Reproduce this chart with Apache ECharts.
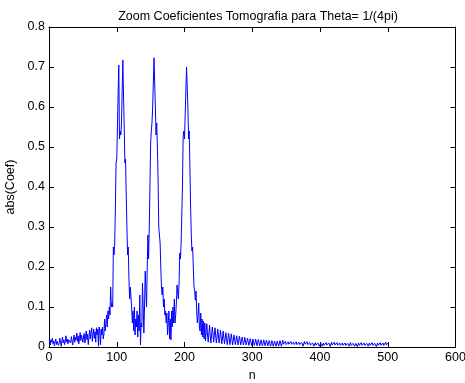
<!DOCTYPE html>
<html>
<head>
<meta charset="utf-8">
<script src="https://cdn.jsdelivr.net/npm/echarts@6/dist/echarts.min.js"></script>
<style>html,body{margin:0;padding:0;background:#fff;}#c{width:465px;height:383px;}</style>
</head>
<body>
<div id="c"></div>
<script>
var titleText = 'Zoom Coeficientes Tomografia para Theta= 1/(4pi)';
var xName = 'n';
var yName = 'abs(Coef)';
var xTicks = [0, 100, 200, 300, 400, 500, 600];
var yTicks = [0, 0.1, 0.2, 0.3, 0.4, 0.5, 0.6, 0.7, 0.8];
// abs(Coef) for n = 1..500
var absCoef = [
0.02,0.005,0.018,0.012,0.022,0.008,0.015,0.003,0.012,0.02,
0.006,0.014,0.018,0.004,0.01,0.022,0.012,0.002,0.016,0.025,
0.01,0.018,0.006,0.015,0.028,0.012,0.02,0.008,0.018,0.013,
0.022,0.01,0.026,0.015,0.005,0.02,0.03,0.012,0.024,0.018,
0.035,0.014,0.028,0.008,0.022,0.036,0.016,0.03,0.02,0.012,
0.028,0.034,0.01,0.026,0.04,0.018,0.032,0.006,0.024,0.042,
0.02,0.035,0.048,0.014,0.03,0.045,0.022,0.038,0.012,0.048,
0.03,0.045,0.002,0.05,0.035,0.005,0.045,0.03,0.05,0.02,
0.03,0.07,0.04,0.06,0.08,0.05,0.09,0.07,0.1,0.08,
0.15,0.1,0.11,0.1,0.25,0.23,0.26,0.35,0.46,0.47,
0.55,0.63,0.705,0.52,0.54,0.53,0.56,0.64,0.717,0.63,
0.55,0.46,0.47,0.38,0.3,0.23,0.25,0.17,0.12,0.15,
0.15,0.1,0.06,0.09,0.04,0.1,0.03,0.07,0.05,0.09,
0.025,0.08,0.04,0.13,0.005,0.06,0.05,0.16,0.1,0.035,
0.1,0.19,0.14,0.1,0.2,0.28,0.22,0.3,0.4,0.51,
0.54,0.56,0.6,0.66,0.723,0.66,0.6,0.53,0.56,0.5,
0.42,0.3,0.28,0.26,0.2,0.15,0.13,0.15,0.1,0.12,
0.08,0.09,0.06,0.085,0.03,0.025,0.09,0.02,0.07,0.018,
0.09,0.05,0.1,0.06,0.12,0.06,0.08,0.11,0.155,0.135,
0.12,0.16,0.235,0.22,0.26,0.265,0.4,0.525,0.54,0.52,
0.58,0.64,0.7,0.705,0.6,0.52,0.54,0.45,0.35,0.28,
0.24,0.25,0.2,0.15,0.14,0.117,0.14,0.09,0.06,0.08,
0.11,0.05,0.04,0.085,0.03,0.07,0.025,0.065,0.02,0.06,
0.015,0.04,0.058,0.03,0.012,0.035,0.055,0.028,0.01,0.03,
0.05,0.035,0.012,0.028,0.048,0.03,0.01,0.025,0.045,0.03,
0.01,0.022,0.042,0.028,0.008,0.02,0.04,0.025,0.008,0.02,
0.036,0.024,0.006,0.018,0.035,0.022,0.006,0.017,0.033,0.02,
0.005,0.016,0.03,0.02,0.006,0.015,0.028,0.018,0.005,0.014,
0.027,0.017,0.005,0.013,0.025,0.016,0.005,0.012,0.024,0.015,
0.005,0.012,0.022,0.014,0.004,0.011,0.021,0.013,0.004,0.011,
0.02,0.012,0.004,0.01,0.02,0.012,0.003,0.01,0.019,0.011,
0.003,0.009,0.018,0.01,0.003,0.009,0.018,0.01,0.003,0.008,
0.017,0.01,0.003,0.008,0.016,0.009,0.002,0.008,0.016,0.009,
0.002,0.007,0.015,0.009,0.002,0.007,0.015,0.008,0.002,0.007,
0.016,0.008,0.002,0.009,0.017,0.007,0.003,0.011,0.014,0.006,
0.002,0.009,0.013,0.007,0.002,0.008,0.014,0.007,0.002,0.007,
0.012,0.006,0.002,0.008,0.013,0.006,0.002,0.007,0.012,0.006,
0.002,0.007,0.011,0.006,0.002,0.008,0.014,0.007,0.002,0.009,
0.013,0.006,0.002,0.007,0.011,0.005,0.002,0.006,0.01,0.005,
0.002,0.006,0.011,0.005,0.002,0.006,0.01,0.005,0.002,0.006,
0.01,0.005,0.002,0.006,0.01,0.004,0.002,0.006,0.011,0.005,
0.002,0.005,0.01,0.005,0.001,0.006,0.012,0.005,0.002,0.007,
0.012,0.005,0.002,0.006,0.011,0.005,0.002,0.005,0.01,0.004,
0.002,0.005,0.01,0.004,0.001,0.005,0.01,0.004,0.002,0.005,
0.009,0.004,0.002,0.006,0.011,0.004,0.001,0.005,0.009,0.004,
0.002,0.005,0.009,0.004,0.001,0.005,0.01,0.004,0.002,0.006,
0.011,0.004,0.001,0.005,0.01,0.004,0.002,0.005,0.009,0.004,
0.002,0.005,0.01,0.004,0.001,0.006,0.011,0.004,0.002,0.005,
0.009,0.004,0.001,0.005,0.01,0.004,0.002,0.006,0.011,0.004,
0.002,0.005,0.01,0.004,0.002,0.006,0.012,0.005,0.003,0.01
];

var seriesData = absCoef.map(function (v, i) { return [i + 1, v]; });
var FONT = 'Liberation Sans, Arial, Helvetica, sans-serif';
var FS = 12.5;
var chart = echarts.init(document.getElementById('c'), null, {renderer: 'canvas'});
var boxAxis = function (extra) {
  return Object.assign({
    axisLine: {show: true, onZero: false, lineStyle: {color: '#000', width: 1}},
    axisTick: {show: true, inside: true, length: 5, lineStyle: {color: '#000'}},
    splitLine: {show: false}
  }, extra);
};
chart.setOption({
  animation: false,
  backgroundColor: '#fff',
  title: {
    text: titleText, left: 253, top: 5, textAlign: 'center',
    textStyle: {fontFamily: FONT, fontSize: FS, fontWeight: 'normal', color: '#000'}
  },
  grid: {left: 49, top: 27, width: 406.5, height: 320, containLabel: false, outerBoundsMode: 'none'},
  xAxis: [
    boxAxis({type: 'value', min: xTicks[0], max: xTicks[xTicks.length - 1], interval: 100, position: 'bottom',
      name: xName, nameLocation: 'middle', nameGap: 21,
      nameTextStyle: {fontFamily: FONT, fontSize: FS, color: '#000'},
      axisLabel: {fontFamily: FONT, fontSize: FS, color: '#000', margin: 4}}),
    boxAxis({type: 'value', min: xTicks[0], max: xTicks[xTicks.length - 1], interval: 100, position: 'top',
      axisLabel: {show: false}})
  ],
  yAxis: [
    boxAxis({type: 'value', min: yTicks[0], max: yTicks[yTicks.length - 1], interval: 0.1, position: 'left',
      name: yName, nameLocation: 'middle', nameGap: 32, nameRotate: 90,
      nameTextStyle: {fontFamily: FONT, fontSize: FS, color: '#000'},
      axisLabel: {fontFamily: FONT, fontSize: FS, color: '#000', margin: 4,
        formatter: function (v) { return String(Math.round(v * 10) / 10); }}}),
    boxAxis({type: 'value', min: yTicks[0], max: yTicks[yTicks.length - 1], interval: 0.1, position: 'right',
      axisLabel: {show: false}})
  ],
  series: [{
    type: 'line', xAxisIndex: 0, yAxisIndex: 0, data: seriesData,
    showSymbol: false, symbol: 'none',
    lineStyle: {color: '#0000ff', width: 1},
    clip: true
  }]
});
</script>
</body>
</html>
